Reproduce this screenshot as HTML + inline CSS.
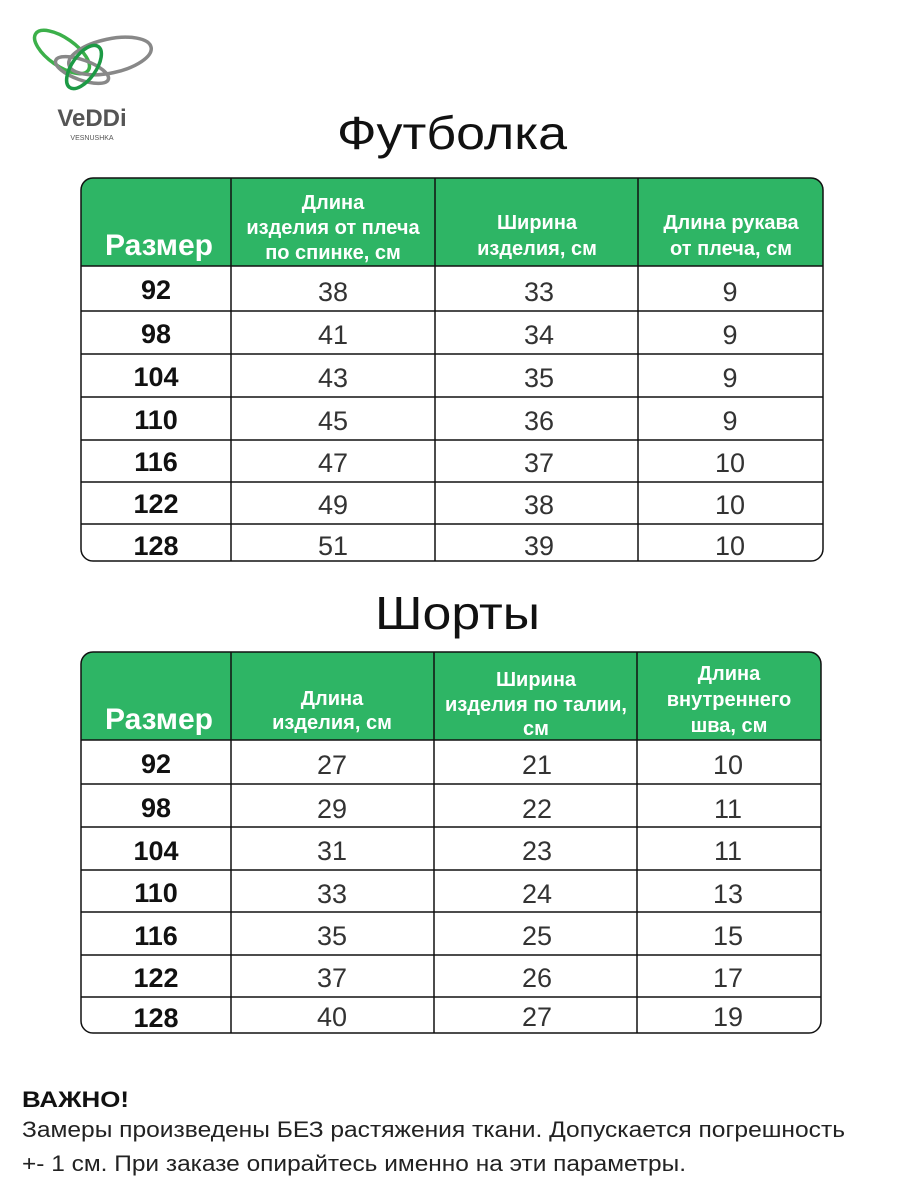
<!DOCTYPE html>
<html><head><meta charset="utf-8"><style>
html,body{margin:0;padding:0;background:#fff;}
svg{display:block}
text{font-family:"Liberation Sans","DejaVu Sans",sans-serif;}
.h{font-weight:bold;fill:#fff;font-size:20px;text-anchor:middle}
.r{font-weight:bold;fill:#fff;font-size:30px;text-anchor:middle}
.s{font-weight:bold;fill:#111;font-size:27px;text-anchor:middle}
.v{fill:#333;font-size:27px;text-anchor:middle}
</style></head><body>
<svg width="900" height="1200" viewBox="0 0 900 1200" xmlns="http://www.w3.org/2000/svg">
<!-- logo -->
<ellipse cx="62" cy="52" rx="32" ry="14" transform="rotate(35 62 52)" fill="none" stroke="#3cb04a" stroke-width="3.5"/>
<ellipse cx="110" cy="56" rx="42" ry="17" transform="rotate(-12 110 56)" fill="none" stroke="#888" stroke-width="3.5"/>
<ellipse cx="82" cy="70" rx="28" ry="10" transform="rotate(20 82 70)" fill="none" stroke="#888" stroke-width="3.5"/>
<ellipse cx="84" cy="67" rx="12" ry="25" transform="rotate(35 84 67)" fill="none" stroke="#1d9a45" stroke-width="3.5"/>
<text x="92" y="126" font-size="24" font-weight="bold" fill="#555" text-anchor="middle">VeDDi</text>
<text x="92" y="140" font-size="7" fill="#555" text-anchor="middle">VESNUSHKA</text>

<text x="337" y="149" font-size="46" fill="#111" textLength="230" lengthAdjust="spacingAndGlyphs">Футболка</text>
<text x="375" y="629" font-size="46" fill="#111" textLength="165" lengthAdjust="spacingAndGlyphs">Шорты</text>

<!-- table 1 -->
<path d="M81 266 V190 Q81 178 93 178 H811 Q823 178 823 190 V266 Z" fill="#2eb565"/>
<rect x="81" y="178" width="742" height="383" rx="12" fill="none" stroke="#111" stroke-width="1.5"/>
<g stroke="#111" stroke-width="1.5">
<line x1="81" y1="266" x2="823" y2="266"/><line x1="81" y1="311" x2="823" y2="311"/>
<line x1="81" y1="354" x2="823" y2="354"/><line x1="81" y1="397" x2="823" y2="397"/>
<line x1="81" y1="440" x2="823" y2="440"/><line x1="81" y1="482" x2="823" y2="482"/>
<line x1="81" y1="524" x2="823" y2="524"/>
<line x1="231" y1="178" x2="231" y2="561"/><line x1="435" y1="178" x2="435" y2="561"/>
<line x1="638" y1="178" x2="638" y2="561"/>
</g>
<text class="r" x="159" y="255">Размер</text>
<text class="h" x="333" y="209">Длина</text><text class="h" x="333" y="234">изделия от плеча</text><text class="h" x="333" y="259">по спинке, см</text>
<text class="h" x="537" y="229">Ширина</text><text class="h" x="537" y="255">изделия, см</text>
<text class="h" x="731" y="229">Длина рукава</text><text class="h" x="731" y="255">от плеча,  см</text>
<g>
<text class="s" x="156" y="299">92</text><text class="v" x="333" y="301">38</text><text class="v" x="539" y="301">33</text><text class="v" x="730" y="301">9</text>
<text class="s" x="156" y="343">98</text><text class="v" x="333" y="344">41</text><text class="v" x="539" y="344">34</text><text class="v" x="730" y="344">9</text>
<text class="s" x="156" y="386">104</text><text class="v" x="333" y="387">43</text><text class="v" x="539" y="387">35</text><text class="v" x="730" y="387">9</text>
<text class="s" x="156" y="429">110</text><text class="v" x="333" y="430">45</text><text class="v" x="539" y="430">36</text><text class="v" x="730" y="430">9</text>
<text class="s" x="156" y="471">116</text><text class="v" x="333" y="472">47</text><text class="v" x="539" y="472">37</text><text class="v" x="730" y="472">10</text>
<text class="s" x="156" y="513">122</text><text class="v" x="333" y="514">49</text><text class="v" x="539" y="514">38</text><text class="v" x="730" y="514">10</text>
<text class="s" x="156" y="555">128</text><text class="v" x="333" y="555">51</text><text class="v" x="539" y="555">39</text><text class="v" x="730" y="555">10</text>
</g>

<!-- table 2 -->
<path d="M81 740 V664 Q81 652 93 652 H809 Q821 652 821 664 V740 Z" fill="#2eb565"/>
<rect x="81" y="652" width="740" height="381" rx="12" fill="none" stroke="#111" stroke-width="1.5"/>
<g stroke="#111" stroke-width="1.5">
<line x1="81" y1="740" x2="821" y2="740"/><line x1="81" y1="784" x2="821" y2="784"/>
<line x1="81" y1="827" x2="821" y2="827"/><line x1="81" y1="870" x2="821" y2="870"/>
<line x1="81" y1="912" x2="821" y2="912"/><line x1="81" y1="955" x2="821" y2="955"/>
<line x1="81" y1="997" x2="821" y2="997"/>
<line x1="231" y1="652" x2="231" y2="1033"/><line x1="434" y1="652" x2="434" y2="1033"/>
<line x1="637" y1="652" x2="637" y2="1033"/>
</g>
<text class="r" x="159" y="729">Размер</text>
<text class="h" x="332" y="705">Длина</text><text class="h" x="332" y="729">изделия, см</text>
<text class="h" x="536" y="686">Ширина</text><text class="h" x="536" y="711">изделия по талии,</text><text class="h" x="536" y="735">см</text>
<text class="h" x="729" y="680">Длина</text><text class="h" x="729" y="706">внутреннего</text><text class="h" x="729" y="732">шва,  см</text>
<g>
<text class="s" x="156" y="773">92</text><text class="v" x="332" y="774">27</text><text class="v" x="537" y="774">21</text><text class="v" x="728" y="774">10</text>
<text class="s" x="156" y="817">98</text><text class="v" x="332" y="818">29</text><text class="v" x="537" y="818">22</text><text class="v" x="728" y="818">11</text>
<text class="s" x="156" y="860">104</text><text class="v" x="332" y="860">31</text><text class="v" x="537" y="860">23</text><text class="v" x="728" y="860">11</text>
<text class="s" x="156" y="902">110</text><text class="v" x="332" y="903">33</text><text class="v" x="537" y="903">24</text><text class="v" x="728" y="903">13</text>
<text class="s" x="156" y="945">116</text><text class="v" x="332" y="945">35</text><text class="v" x="537" y="945">25</text><text class="v" x="728" y="945">15</text>
<text class="s" x="156" y="987">122</text><text class="v" x="332" y="987">37</text><text class="v" x="537" y="987">26</text><text class="v" x="728" y="987">17</text>
<text class="s" x="156" y="1027">128</text><text class="v" x="332" y="1026">40</text><text class="v" x="537" y="1026">27</text><text class="v" x="728" y="1026">19</text>
</g>

<text x="22" y="1107" font-size="22" font-weight="bold" fill="#111" textLength="107" lengthAdjust="spacingAndGlyphs">ВАЖНО!</text>
<text x="22" y="1137" font-size="22" fill="#222" textLength="823" lengthAdjust="spacingAndGlyphs">Замеры произведены БЕЗ растяжения ткани. Допускается погрешность</text>
<text x="22" y="1171" font-size="22" fill="#222" textLength="664" lengthAdjust="spacingAndGlyphs">+- 1 см. При заказе опирайтесь именно на эти параметры.</text>
</svg>
</body></html>
